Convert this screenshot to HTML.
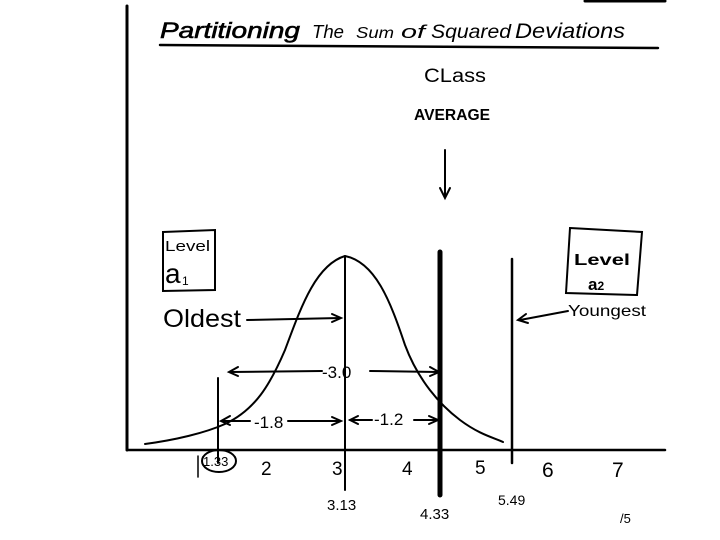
<!DOCTYPE html>
<html><head><meta charset="utf-8"><style>
html,body{margin:0;padding:0;background:#fff;}
svg{display:block;}
text{font-family:"Liberation Sans",sans-serif;fill:#000;}
</style></head><body>
<svg width="720" height="540" viewBox="0 0 720 540" xmlns="http://www.w3.org/2000/svg">
<rect width="720" height="540" fill="#fff"/>
<g stroke="#000" fill="none" stroke-linecap="round">
<line x1="127" y1="6" x2="127" y2="450" stroke-width="3"/>
<line x1="127" y1="450" x2="665" y2="450" stroke-width="2.5"/>
<line x1="585" y1="1" x2="665" y2="1" stroke-width="3"/>
<line x1="160" y1="45" x2="658" y2="48" stroke-width="2.5"/>
<line x1="445" y1="150" x2="445" y2="197" stroke-width="2"/>
<path d="M440,188 L445,198 L450,188" stroke-width="2"/>
<path d="M145,444 C175,440 205,433 225,424 C255,410 270,385 285,350 C300,310 315,265 345,256 C375,262 390,300 405,345 C418,380 440,405 460,420 C480,435 495,438 503,442" stroke-width="2"/>
<line x1="218" y1="378" x2="218" y2="463" stroke-width="2"/>
<line x1="345" y1="256" x2="345" y2="490" stroke-width="2"/>
<line x1="440" y1="252" x2="440" y2="495" stroke-width="5"/>
<line x1="512" y1="259" x2="512" y2="463" stroke-width="2.5"/>
<path d="M163,232 L215,230 L215,290 L163,291 Z" stroke-width="2"/>
<path d="M570,228 L642,232 L637,295 L566,293 Z" stroke-width="2"/>
<line x1="247" y1="320" x2="340" y2="318" stroke-width="2"/><path d="M332,314 L341,318 L332,322" stroke-width="2"/>
<line x1="568" y1="311" x2="520" y2="320" stroke-width="2"/><path d="M526,314 L518,320 L528,323" stroke-width="2"/>
<line x1="230" y1="372" x2="322" y2="371" stroke-width="2"/><path d="M238,367 L229,372 L238,376" stroke-width="2"/>
<line x1="370" y1="371" x2="438" y2="372" stroke-width="2"/><path d="M430,367 L439,372 L430,376" stroke-width="2"/>
<line x1="222" y1="421" x2="250" y2="421" stroke-width="2"/><path d="M230,416 L221,421 L230,425" stroke-width="2"/>
<line x1="288" y1="421" x2="340" y2="421" stroke-width="2"/><path d="M332,417 L341,421 L332,425" stroke-width="2"/>
<line x1="350" y1="420" x2="372" y2="420" stroke-width="2"/><path d="M358,416 L350,420 L358,424" stroke-width="2"/>
<line x1="414" y1="420" x2="437" y2="420" stroke-width="2"/><path d="M429,416 L438,420 L429,424" stroke-width="2"/>
<ellipse cx="219" cy="461" rx="17" ry="11" stroke-width="2"/>
<line x1="198" y1="456" x2="198" y2="477" stroke-width="1.5"/>
</g>
<text x="160" y="38" font-size="22" font-style="italic" stroke="#000" stroke-width="0.6" textLength="140" lengthAdjust="spacingAndGlyphs">Partitioning</text>
<text x="312" y="38" font-size="18" font-style="italic" textLength="32" lengthAdjust="spacingAndGlyphs">The</text>
<text x="356" y="38" font-size="16" font-style="italic" textLength="38" lengthAdjust="spacingAndGlyphs">Sum</text>
<text x="401" y="38" font-size="18" font-style="italic" textLength="24" lengthAdjust="spacingAndGlyphs">of</text>
<text x="431" y="38" font-size="19" font-style="italic" textLength="80" lengthAdjust="spacingAndGlyphs">Squared</text>
<text x="515" y="38" font-size="21" font-style="italic" textLength="110" lengthAdjust="spacingAndGlyphs">Deviations</text>
<text x="424" y="82" font-size="19" textLength="62" lengthAdjust="spacingAndGlyphs">CLass</text>
<text x="414" y="120" font-size="16" font-weight="bold" textLength="76" lengthAdjust="spacingAndGlyphs">AVERAGE</text>
<text x="165" y="251" font-size="15" textLength="45" lengthAdjust="spacingAndGlyphs">Level</text>
<text x="165" y="283" font-size="28">a</text><text x="182" y="285" font-size="12">1</text>
<text x="163" y="327" font-size="25" textLength="78" lengthAdjust="spacingAndGlyphs">Oldest</text>
<text x="574" y="265" font-size="16" font-weight="bold" textLength="56" lengthAdjust="spacingAndGlyphs">Level</text>
<text x="588" y="290" font-size="17" font-weight="bold">a<tspan font-size="12">2</tspan></text>
<text x="568" y="316" font-size="16" textLength="78" lengthAdjust="spacingAndGlyphs">Youngest</text>
<text x="322" y="378" font-size="17">-3.0</text>
<text x="254" y="428" font-size="17">-1.8</text>
<text x="374" y="425" font-size="17">-1.2</text>
<text x="203" y="466" font-size="13">1.33</text>
<text x="261" y="475" font-size="19">2</text>
<text x="332" y="475" font-size="19">3</text>
<text x="402" y="475" font-size="19">4</text>
<text x="475" y="474" font-size="19">5</text>
<text x="542" y="477" font-size="21">6</text>
<text x="612" y="477" font-size="21">7</text>
<text x="327" y="510" font-size="15">3.13</text>
<text x="420" y="519" font-size="15">4.33</text>
<text x="498" y="505" font-size="14">5.49</text>
<text x="620" y="523" font-size="13">/5</text>
</svg>
</body></html>
